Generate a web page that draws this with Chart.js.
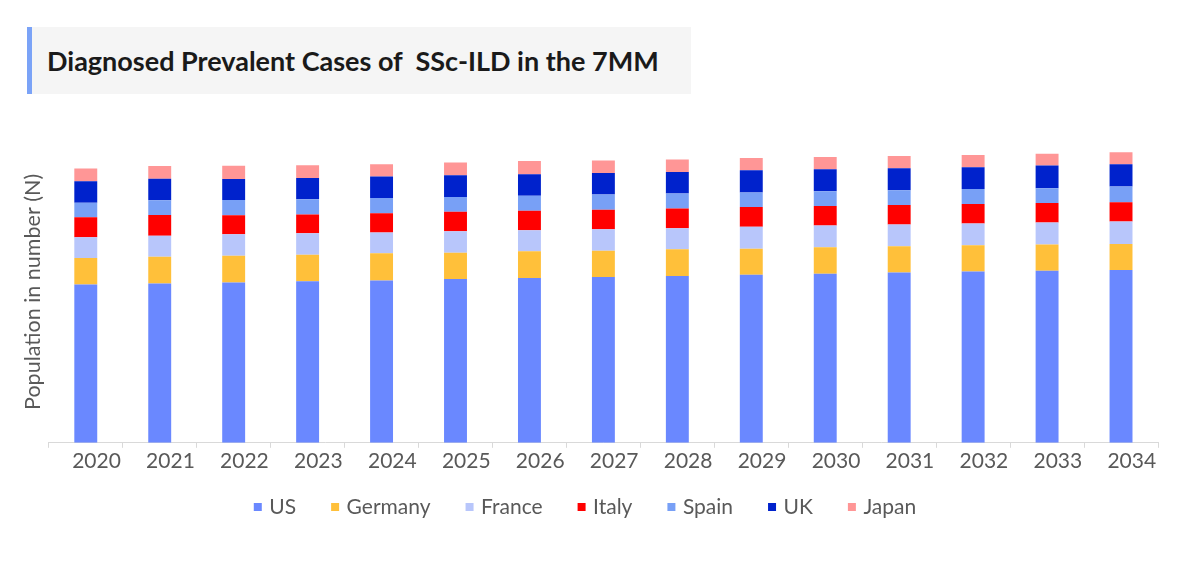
<!DOCTYPE html>
<html>
<head>
<meta charset="utf-8">
<script src="https://cdn.jsdelivr.net/npm/chart.js@4.4.1/dist/chart.umd.min.js"></script>
<style>
  html, body { margin: 0; padding: 0; background: #ffffff; }
  #wrap { position: relative; width: 1200px; height: 570px; overflow: hidden; }
  #chart { position: absolute; left: 0; top: 0; }
  #title {
    position: absolute; left: 27px; top: 27px; width: 664px; height: 67px;
    background: #f5f5f5; border-left: 5px solid #7ba3f7;
    font-family: Lato, sans-serif; font-weight: bold; font-size: 27px; color: #1a1a1a;
    line-height: 67px; padding-left: 15px; box-sizing: border-box;
    white-space: pre;
  }
</style>
</head>
<body>
<div id="wrap">
  <canvas id="chart" width="1200" height="570"></canvas>
  <div id="title">Diagnosed Prevalent Cases of  SSc-ILD in the 7MM</div>
</div>
<script>
const years = ['2020','2021','2022','2023','2024','2025','2026','2027','2028','2029','2030','2031','2032','2033','2034'];
const seriesNames = ['US','Germany','France','Italy','Spain','UK','Japan'];
const seriesColors = ['#6a88ff','#ffc03a','#b8c6fb','#ff0000','#78a0f6','#0022cc','#ff9696'];

const us      = [15730,15830,15930,16070,16130,16270,16370,16470,16570,16700,16800,16930,17030,17100,17170];
const germany = [2640,2670,2670,2630,2700,2630,2660,2630,2660,2600,2630,2600,2600,2600,2600];
const france  = [2060,2070,2130,2130,2070,2130,2100,2130,2100,2170,2170,2170,2170,2200,2230];
const italy   = [2000,2070,1900,1870,1930,1940,1940,1940,1970,1960,1930,1930,1930,1930,1900];
const spain   = [1440,1470,1500,1500,1500,1460,1500,1500,1470,1440,1470,1470,1500,1470,1570];
const uk      = [2130,2130,2100,2130,2140,2170,2130,2160,2160,2230,2200,2200,2170,2260,2230];
const japan   = [1270,1270,1300,1270,1230,1270,1300,1240,1240,1200,1200,1200,1200,1170,1170];

const seriesValues = [us, germany, france, italy, spain, uk, japan];

const LEGEND_PAD = 38;
const LEGEND_FONT = 21;
const LEGEND_CENTER_Y = 507;

const legendShift = {
  id: 'legendShift',
  afterLayout(chart) {
    const lg = chart.legend;
    if (!lg) return;
    const targetTop = LEGEND_CENTER_Y - LEGEND_PAD - LEGEND_FONT / 2;
    const dy = lg.top - targetTop;
    lg.top -= dy;
    lg.bottom -= dy;
  }
};

function build() {
  const datasets = seriesNames.map((name, i) => ({
    label: name,
    data: seriesValues[i],
    backgroundColor: seriesColors[i],
    borderWidth: 0,
    categoryPercentage: 1.0,
    barPercentage: 0.31
  }));

  new Chart(document.getElementById('chart'), {
    type: 'bar',
    data: { labels: years, datasets },
    plugins: [legendShift],
    options: {
      responsive: false,
      animation: false,
      devicePixelRatio: 1,
      layout: { padding: { top: 141, left: 15, right: 42, bottom: 26 } },
      plugins: {
        title: { display: false },
        tooltip: { enabled: false },
        legend: {
          position: 'bottom',
          labels: {
            usePointStyle: true,
            pointStyle: 'rect',
            boxWidth: 2,
            boxHeight: 8,
            padding: LEGEND_PAD,
            color: '#595959',
            font: { family: 'Lato', size: LEGEND_FONT }
          }
        }
      },
      scales: {
        x: {
          stacked: true,
          grid: { display: true, drawOnChartArea: false, drawTicks: true, tickLength: 5, color: '#d9d9d9', offset: true },
          border: { display: true, color: '#d9d9d9', width: 1 },
          ticks: {
            color: '#595959', padding: 1,
            maxRotation: 0, minRotation: 0, autoSkip: false,
            font: { family: 'Lato', size: 21 },
            callback: function(v, i) { return '    ' + years[i]; }
          }
        },
        y: {
          stacked: true,
          min: 0, max: 30000,
          grid: { display: false, drawTicks: false },
          border: { display: false },
          ticks: { display: false },
          title: {
            display: true,
            text: 'Population in number (N)',
            color: '#595959',
            font: { family: 'Lato', size: 21.5 },
            padding: { top: 5, bottom: 3 }
          }
        }
      }
    }
  });
}

if (document.fonts && document.fonts.load) {
  Promise.all([
    document.fonts.load('21px Lato'),
    document.fonts.load('bold 27px Lato')
  ]).then(build, build);
} else { build(); }
</script>
</body>
</html>
